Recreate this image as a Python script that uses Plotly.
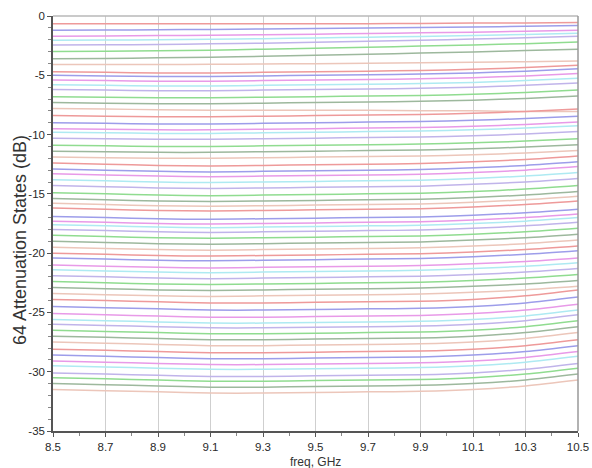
import plotly.graph_objects as go

freq_ghz = [8.5, 8.7, 8.9, 9.1, 9.3, 9.5, 9.7, 9.9, 10.1, 10.3, 10.5]

x_tick_vals = [8.5, 8.7, 8.9, 9.1, 9.3, 9.5, 9.7, 9.9, 10.1, 10.3, 10.5]
x_tick_text = ["8.5", "8.7", "8.9", "9.1", "9.3", "9.5", "9.7", "9.9", "10.1", "10.3", "10.5"]
y_tick_vals = [0, -5, -10, -15, -20, -25, -30, -35]
y_tick_text = ["0", "-5", "-10", "-15", "-20", "-25", "-30", "-35"]

# attenuation (dB) of each of the 64 states at the frequencies above
state_00 = [-0.65, -0.65, -0.65, -0.65, -0.65, -0.65, -0.65, -0.63, -0.60, -0.60, -0.55]
state_01 = [-1.2, -1.18, -1.16, -1.13, -1.1, -1.06, -1.02, -0.98, -0.93, -0.87, -0.8]
state_02 = [-1.7, -1.68, -1.65, -1.62, -1.58, -1.53, -1.48, -1.42, -1.36, -1.28, -1.2]
state_03 = [-2.05, -2.03, -2.0, -1.96, -1.91, -1.85, -1.79, -1.72, -1.64, -1.55, -1.45]
state_04 = [-2.45, -2.43, -2.4, -2.35, -2.29, -2.22, -2.14, -2.05, -1.95, -1.83, -1.7]
state_05 = [-3.0, -2.98, -2.94, -2.88, -2.8, -2.72, -2.63, -2.54, -2.44, -2.33, -2.2]
state_06 = [-3.6, -3.58, -3.53, -3.47, -3.4, -3.32, -3.23, -3.13, -3.03, -2.92, -2.8]
state_07 = [-4.1, -4.1, -4.09, -4.07, -4.05, -4.02, -3.99, -3.95, -3.9, -3.85, -3.8]
state_08 = [-4.7, -4.75, -4.8, -4.8, -4.75, -4.7, -4.65, -4.6, -4.5, -4.35, -4.15]
state_09 = [-5.0, -5.05, -5.1, -5.1, -5.05, -5.0, -4.95, -4.9, -4.8, -4.65, -4.45]
state_10 = [-5.4, -5.45, -5.5, -5.5, -5.45, -5.4, -5.35, -5.3, -5.2, -5.05, -4.85]
state_11 = [-5.8, -5.85, -5.9, -5.9, -5.85, -5.8, -5.75, -5.7, -5.6, -5.45, -5.25]
state_12 = [-6.2, -6.25, -6.3, -6.3, -6.25, -6.2, -6.15, -6.1, -6.0, -5.85, -5.65]
state_13 = [-6.8, -6.85, -6.9, -6.9, -6.85, -6.8, -6.75, -6.7, -6.6, -6.45, -6.25]
state_14 = [-7.3, -7.35, -7.4, -7.4, -7.35, -7.3, -7.25, -7.2, -7.1, -6.95, -6.75]
state_15 = [-7.8, -7.85, -7.9, -7.95, -7.95, -7.95, -7.95, -8.0, -8.0, -8.05, -8.05]
state_16 = [-8.4, -8.45, -8.5, -8.5, -8.45, -8.4, -8.35, -8.3, -8.2, -8.05, -7.85]
state_17 = [-9.0, -9.05, -9.1, -9.1, -9.05, -9.0, -8.95, -8.9, -8.8, -8.65, -8.45]
state_18 = [-9.5, -9.55, -9.6, -9.6, -9.55, -9.5, -9.45, -9.4, -9.3, -9.15, -8.95]
state_19 = [-9.8, -9.85, -9.9, -9.9, -9.85, -9.8, -9.75, -9.7, -9.6, -9.45, -9.25]
state_20 = [-10.3, -10.35, -10.4, -10.4, -10.35, -10.3, -10.25, -10.2, -10.1, -9.95, -9.75]
state_21 = [-10.9, -10.95, -11.0, -11.0, -10.95, -10.9, -10.85, -10.8, -10.7, -10.55, -10.35]
state_22 = [-11.4, -11.45, -11.5, -11.5, -11.45, -11.4, -11.35, -11.3, -11.2, -11.05, -10.85]
state_23 = [-11.9, -11.95, -12.0, -12.0, -11.95, -11.9, -11.85, -11.8, -11.7, -11.55, -11.35]
state_24 = [-12.4, -12.5, -12.6, -12.65, -12.6, -12.55, -12.5, -12.45, -12.3, -12.1, -11.8]
state_25 = [-12.9, -13.0, -13.1, -13.15, -13.1, -13.05, -13.0, -12.95, -12.8, -12.6, -12.3]
state_26 = [-13.3, -13.4, -13.5, -13.55, -13.5, -13.45, -13.4, -13.35, -13.2, -13.0, -12.7]
state_27 = [-13.8, -13.9, -14.0, -14.05, -14.0, -13.95, -13.9, -13.85, -13.7, -13.5, -13.2]
state_28 = [-14.3, -14.4, -14.5, -14.55, -14.5, -14.45, -14.4, -14.35, -14.2, -14.0, -13.7]
state_29 = [-14.9, -15.0, -15.1, -15.15, -15.1, -15.05, -15.0, -14.95, -14.8, -14.6, -14.3]
state_30 = [-15.4, -15.5, -15.6, -15.65, -15.6, -15.55, -15.5, -15.45, -15.3, -15.1, -14.8]
state_31 = [-15.8, -15.9, -16.0, -16.05, -16.0, -15.95, -15.9, -15.85, -15.7, -15.5, -15.2]
state_32 = [-16.2, -16.3, -16.4, -16.45, -16.4, -16.35, -16.3, -16.25, -16.1, -15.9, -15.6]
state_33 = [-16.9, -17.0, -17.1, -17.15, -17.1, -17.05, -17.0, -16.95, -16.8, -16.6, -16.3]
state_34 = [-17.3, -17.4, -17.5, -17.55, -17.5, -17.45, -17.4, -17.35, -17.2, -17.0, -16.7]
state_35 = [-17.6, -17.7, -17.8, -17.85, -17.8, -17.75, -17.7, -17.65, -17.5, -17.3, -17.0]
state_36 = [-18.0, -18.1, -18.2, -18.25, -18.2, -18.15, -18.1, -18.05, -17.9, -17.7, -17.4]
state_37 = [-18.5, -18.6, -18.7, -18.75, -18.7, -18.65, -18.6, -18.55, -18.4, -18.2, -17.9]
state_38 = [-19.0, -19.1, -19.2, -19.25, -19.2, -19.15, -19.1, -19.05, -18.9, -18.7, -18.4]
state_39 = [-19.5, -19.6, -19.7, -19.75, -19.7, -19.65, -19.6, -19.55, -19.4, -19.2, -18.9]
state_40 = [-20.0, -20.1, -20.2, -20.25, -20.2, -20.15, -20.1, -20.05, -19.9, -19.7, -19.4]
state_41 = [-20.4, -20.5, -20.6, -20.65, -20.6, -20.55, -20.5, -20.45, -20.3, -20.1, -19.8]
state_42 = [-21.0, -21.1, -21.2, -21.25, -21.2, -21.15, -21.1, -21.05, -20.9, -20.7, -20.4]
state_43 = [-21.4, -21.5, -21.6, -21.65, -21.6, -21.55, -21.5, -21.45, -21.3, -21.1, -20.8]
state_44 = [-21.9, -22.0, -22.1, -22.15, -22.1, -22.05, -22.0, -21.95, -21.8, -21.6, -21.3]
state_45 = [-22.4, -22.5, -22.6, -22.65, -22.6, -22.55, -22.5, -22.45, -22.3, -22.1, -21.8]
state_46 = [-22.9, -23.0, -23.1, -23.15, -23.1, -23.05, -23.0, -22.95, -22.8, -22.6, -22.3]
state_47 = [-23.4, -23.5, -23.6, -23.65, -23.6, -23.55, -23.5, -23.45, -23.3, -23.1, -22.8]
state_48 = [-23.9, -24.0, -24.1, -24.2, -24.2, -24.15, -24.1, -24.05, -23.9, -23.6, -23.1]
state_49 = [-24.5, -24.6, -24.7, -24.8, -24.8, -24.75, -24.7, -24.65, -24.5, -24.2, -23.7]
state_50 = [-25.1, -25.2, -25.3, -25.4, -25.4, -25.35, -25.3, -25.25, -25.1, -24.8, -24.3]
state_51 = [-25.6, -25.7, -25.8, -25.9, -25.9, -25.85, -25.8, -25.75, -25.6, -25.3, -24.8]
state_52 = [-26.0, -26.1, -26.2, -26.3, -26.3, -26.25, -26.2, -26.15, -26.0, -25.7, -25.2]
state_53 = [-26.5, -26.6, -26.7, -26.8, -26.8, -26.75, -26.7, -26.65, -26.5, -26.2, -25.7]
state_54 = [-27.0, -27.1, -27.2, -27.3, -27.3, -27.25, -27.2, -27.15, -27.0, -26.7, -26.2]
state_55 = [-27.5, -27.6, -27.7, -27.8, -27.8, -27.75, -27.7, -27.65, -27.5, -27.2, -26.7]
state_56 = [-28.1, -28.2, -28.3, -28.4, -28.4, -28.35, -28.3, -28.25, -28.1, -27.8, -27.3]
state_57 = [-28.6, -28.7, -28.8, -28.9, -28.9, -28.85, -28.8, -28.75, -28.6, -28.3, -27.8]
state_58 = [-29.1, -29.2, -29.3, -29.4, -29.4, -29.35, -29.3, -29.25, -29.1, -28.8, -28.3]
state_59 = [-29.5, -29.6, -29.7, -29.8, -29.8, -29.75, -29.7, -29.65, -29.5, -29.2, -28.7]
state_60 = [-30.1, -30.2, -30.3, -30.4, -30.4, -30.35, -30.3, -30.25, -30.1, -29.8, -29.3]
state_61 = [-30.5, -30.6, -30.7, -30.8, -30.8, -30.75, -30.7, -30.65, -30.5, -30.2, -29.7]
state_62 = [-31.0, -31.1, -31.2, -31.3, -31.3, -31.25, -31.2, -31.15, -31.0, -30.7, -30.2]
state_63 = [-31.5, -31.6, -31.7, -31.8, -31.8, -31.75, -31.7, -31.65, -31.5, -31.2, -30.7]

states = [
    state_00, state_01, state_02, state_03, state_04, state_05, state_06, state_07,
    state_08, state_09, state_10, state_11, state_12, state_13, state_14, state_15,
    state_16, state_17, state_18, state_19, state_20, state_21, state_22, state_23,
    state_24, state_25, state_26, state_27, state_28, state_29, state_30, state_31,
    state_32, state_33, state_34, state_35, state_36, state_37, state_38, state_39,
    state_40, state_41, state_42, state_43, state_44, state_45, state_46, state_47,
    state_48, state_49, state_50, state_51, state_52, state_53, state_54, state_55,
    state_56, state_57, state_58, state_59, state_60, state_61, state_62, state_63,
]

trace_colors = ["#ee9a9a", "#9d9dea", "#e89ae8", "#aeeaf2",
                "#c0b4ea", "#90dc90", "#9db89d", "#ecc6ba"]

fig = go.Figure()
for i, ys in enumerate(states):
    fig.add_trace(go.Scatter(
        x=freq_ghz, y=ys, mode="lines",
        line=dict(color=trace_colors[i % len(trace_colors)], width=1.5, shape="spline", smoothing=0.8),
        showlegend=False, hoverinfo="skip",
    ))

font_family = "Arial, Liberation Sans, sans-serif"
axis_font = dict(family=font_family, size=11.5, color="#2a2a2a")

fig.update_layout(
    template="none",
    width=592, height=468,
    margin=dict(l=53, r=14, t=16, b=37, autoexpand=False),
    paper_bgcolor="white", plot_bgcolor="white",
    showlegend=False,
    xaxis=dict(
        automargin=False,
        range=[8.5, 10.5], tickvals=x_tick_vals, ticktext=x_tick_text,
        showgrid=True, gridcolor="#cfcfcf", gridwidth=1,
        showline=True, linecolor="#555555", linewidth=1.5,
        ticks="outside", ticklen=4, tickcolor="#555555", tickfont=axis_font,
        minor=dict(dtick=0.1, tick0=8.5, ticks="outside", ticklen=3, tickcolor="#888888", showgrid=False),
        zeroline=False,
    ),
    yaxis=dict(
        automargin=False,
        range=[-35, 0], tickvals=y_tick_vals, ticktext=y_tick_text,
        showgrid=False,
        showline=True, linecolor="#555555", linewidth=1.5,
        ticks="outside", ticklen=4, tickcolor="#555555", tickfont=axis_font,
        minor=dict(dtick=1, tick0=0, ticks="outside", ticklen=3, tickcolor="#888888", showgrid=False),
        zeroline=False,
    ),
    annotations=[
        dict(text="64 Attenuation States (dB)", textangle=-90, xref="paper", yref="paper",
             x=0, y=0.46, xanchor="center", yanchor="middle", xshift=-33, showarrow=False,
             font=dict(family=font_family, size=18, color="#333333")),
        dict(text="freq, GHz", xref="paper", yref="paper",
             x=0.5, y=0, xanchor="center", yanchor="top", yshift=-22, showarrow=False,
             font=dict(family=font_family, size=12, color="#333333")),
    ],
)

# lighter top and right frame
fig.add_shape(type="line", xref="x domain", yref="y domain", x0=0, x1=1, y0=1, y1=1,
              line=dict(color="#b8b8b8", width=1.5))
fig.add_shape(type="line", xref="x domain", yref="y domain", x0=1, x1=1, y0=0, y1=1,
              line=dict(color="#999999", width=1.5))

fig.write_html("out.html")
